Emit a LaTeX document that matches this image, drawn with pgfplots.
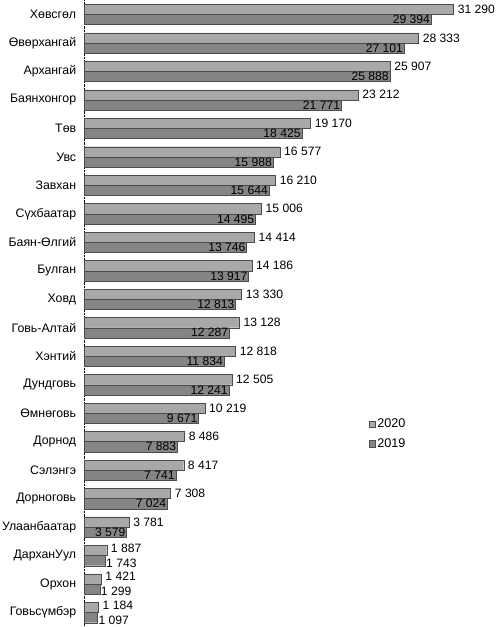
\documentclass[border=0pt]{standalone}
\usepackage{pgfplots}
\pgfplotsset{compat=1.18}
\usepackage{pgfplotstable}
\usepackage{fontspec}
\setmainfont{Liberation Sans}
\pgfplotstableread{
idx v20 v19
0 31290 29394
1 28333 27101
2 25907 25888
3 23212 21771
4 19170 18425
5 16577 15988
6 16210 15644
7 15006 14495
8 14414 13746
9 14186 13917
10 13330 12813
11 13128 12287
12 12818 11834
13 12505 12241
14 10219 9671
15 8486 7883
16 8417 7741
17 7308 7024
18 3781 3579
19 1887 1743
20 1421 1299
21 1184 1097
}\data
\definecolor{c20}{gray}{0.66}
\definecolor{c19}{gray}{0.52}
\begin{document}
\begin{tikzpicture}
\begin{axis}[
  scale only axis,
  width=364bp, height=618bp,
  xmin=0, xmax=31290,
  ymin=-0.5, ymax=21.5,
  y dir=reverse,
  axis x line=none,
  axis y line*=left,
  y axis line style={black, densely dotted},
  ytick={0,...,21},
  yticklabels={Хөвсгөл,Өвөрхангай,Архангай,Баянхонгор,Төв,Увс,Завхан,Сүхбаатар,Баян-Өлгий,Булган,Ховд,Говь-Алтай,Хэнтий,Дундговь,Өмнөговь,Дорнод,Сэлэнгэ,Дорноговь,Улаанбаатар,ДарханУул,Орхон,Говьсүмбэр},
  major tick length=0pt,
  yticklabel style={font=\fontsize{12.2}{14}\selectfont, inner sep=2pt, xshift=-6bp},
  xbar, bar width=10bp,
  /pgf/number format/assume math mode=true,
  /pgf/number format/1000 sep={\ },
  nodes near coords,
  nodes near coords style={font=\fontsize{12}{14}\selectfont, inner sep=1pt, text=black},
  legend style={draw=none, fill=none, at={(0.77,0.335)}, anchor=north west, font=\fontsize{12.5}{14}\selectfont, row sep=5pt, inner sep=0pt},
  legend cell align=left,
  legend image code/.code={\fill[#1] (0bp,-3bp) rectangle (6bp,3bp);},
  clip=false,
]
\addplot[fill=c20, draw=black!70, line width=0.4pt, bar shift=5bp,
  visualization depends on={rawx/1000 \as \rxa},
  nodes near coords style={/utils/exec={\ifdim\rxa pt<2.5pt\gdef\myys{2.5bp}\else\gdef\myys{0bp}\fi}, anchor=west, xshift=3bp, yshift=\myys}]
  table[x=v20, y=idx] {\data};
\addlegendentry{2020}
\addplot[fill=c19, draw=black!70, line width=0.4pt, bar shift=-5bp,
  visualization depends on={rawx/1000 \as \rx},
  nodes near coords style={/utils/exec={\ifdim\rx pt<2.5pt\gdef\myanc{west}\gdef\myysb{-2.5bp}\else\gdef\myanc{east}\gdef\myysb{0bp}\fi}, anchor=\myanc, yshift=\myysb}]
  table[x=v19, y=idx] {\data};
\addlegendentry{2019}
\end{axis}
\end{tikzpicture}
\end{document}
